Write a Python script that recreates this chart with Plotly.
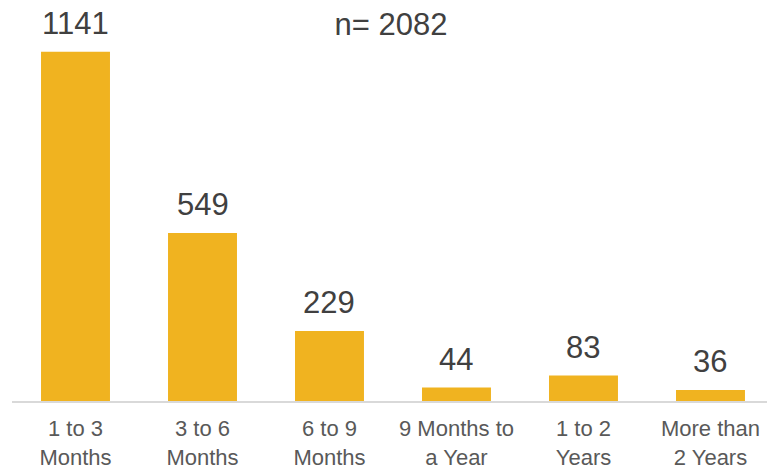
import plotly.graph_objects as go

categories = ["1 to 3<br>Months", "3 to 6<br>Months", "6 to 9<br>Months",
              "9 Months to<br>a Year", "1 to 2<br>Years", "More than<br>2 Years"]
counts = [1141, 549, 229, 44, 83, 36]
sample_note = "n= 2082"

BAR = "#F0B320"
FONT = "Liberation Sans, Arial, sans-serif"

fig = go.Figure()
fig.add_trace(go.Bar(
    x=list(range(len(categories))), y=counts,
    marker=dict(color=BAR, line=dict(width=0)),
    hoverinfo="skip",
))

for i, v in enumerate(counts):
    fig.add_annotation(x=i, y=v, text=str(v), showarrow=False,
                       xref="x", yref="y", yanchor="bottom", yshift=9,
                       font=dict(family=FONT, size=31, color="#404040"))

fig.update_layout(
    width=767, height=469,
    margin=dict(l=12, r=0, t=0, b=68, autoexpand=False),
    paper_bgcolor="white", plot_bgcolor="white",
    bargap=0.457,
    showlegend=False,
    title=dict(text=sample_note, x=391 / 767, xanchor="center",
               y=1 - 24 / 469, yanchor="middle", yref="container",
               font=dict(family=FONT, size=31, color="#404040")),
    xaxis=dict(
        tickmode="array", tickvals=list(range(len(categories))), ticktext=categories,
        range=[-0.5, 5.445], showgrid=False, zeroline=False, automargin=False,
        showline=True, linecolor="#D9D9D9", linewidth=1.5,
        ticks="", tickfont=dict(family=FONT, size=22, color="#595959"),
        ticklabelstandoff=7,
    ),
    yaxis=dict(range=[0, 1310], visible=False, showgrid=False, zeroline=False,
               automargin=False),
)

fig.write_html("out.html", config={"displayModeBar": False},
               post_script="document.body.style.margin='0';document.body.style.overflow='hidden';")
